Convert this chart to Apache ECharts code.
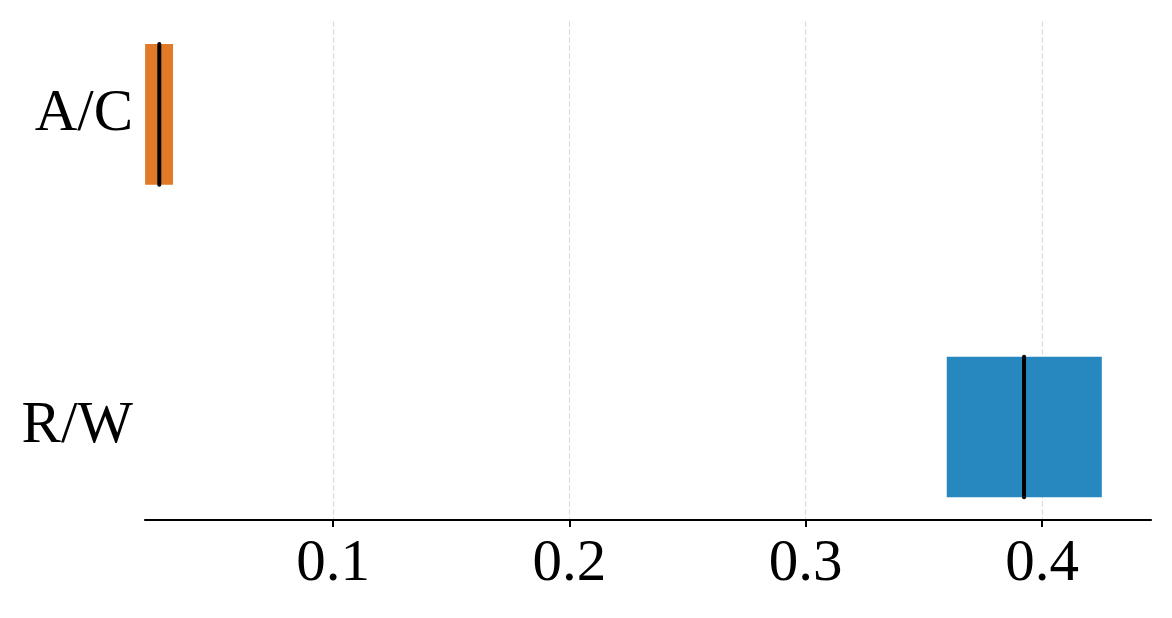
<!DOCTYPE html>
<html>
<head>
<meta charset="utf-8">
<script src="https://cdn.jsdelivr.net/npm/echarts@6/dist/echarts.min.js"></script>
<style>
  html, body { margin: 0; padding: 0; background: #fff; }
  #chart { width: 1172px; height: 618px; }
</style>
</head>
<body>
<div id="chart"></div>
<script>
// data
var categories = ['R/W', 'A/C'];          // y position 0, 1
var lows = [0.3597, 0.0205];
var highs = [0.4253, 0.0323];
var medians = [0.3924, 0.0265];
var barColors = ['#2788bf', '#e07a28'];
var xTicks = [0.1, 0.2, 0.3, 0.4];

document.addEventListener('DOMContentLoaded', function () {
    var chartDom = document.getElementById('chart');
    var myChart = echarts.init(chartDom);

    var BAR_H = 0.45;
    var font = '"Liberation Serif", "Times New Roman", serif';

    var data = categories.map(function (c, i) {
        return [i, lows[i], highs[i], medians[i]];
    });

    function renderItem(params, api) {
        var y = api.value(0);
        var p0 = api.coord([api.value(1), y]);
        var p1 = api.coord([api.value(2), y]);
        var pm = api.coord([api.value(3), y]);
        var h = api.size([0, BAR_H])[1];
        return {
            type: 'group',
            children: [
                {
                    type: 'rect',
                    shape: { x: p0[0], y: p0[1] - h / 2, width: p1[0] - p0[0], height: h },
                    style: { fill: barColors[params.dataIndex] }
                },
                {
                    type: 'line',
                    shape: { x1: pm[0], y1: p0[1] - h / 2, x2: pm[0], y2: p0[1] + h / 2 },
                    style: { stroke: '#000', lineWidth: 4, lineCap: 'round' }
                }
            ]
        };
    }

    var option = {
        animation: false,
        grid: { left: 145, right: 21, top: 21.3, bottom: 98 },
        xAxis: {
            type: 'value',
            min: 0.02045,
            max: 0.44612,
            axisLine: { show: true, onZero: false, lineStyle: { color: '#000', width: 2.2 } },
            axisTick: { show: true, customValues: xTicks, length: 7, lineStyle: { color: '#000', width: 2 } },
            axisLabel: {
                customValues: xTicks,
                margin: 15,
                color: '#000',
                fontFamily: font,
                fontSize: 59,
                formatter: function (v) { return v.toFixed(1); }
            },
            splitLine: { show: true, lineStyle: { color: '#dcdcdc', width: 1.2, type: [5.5, 2.5] } }
        },
        yAxis: {
            type: 'value',
            min: -0.2975,
            max: 1.2975,
            axisLine: { show: false },
            axisTick: { show: false },
            splitLine: { show: false },
            axisLabel: {
                customValues: [0, 1],
                margin: 12,
                padding: [8, 0, 0, 0],
                color: '#000',
                fontFamily: font,
                fontSize: 59,
                formatter: function (v) { return categories[Math.round(v)]; }
            }
        },
        series: [
            {
                type: 'custom',
                renderItem: renderItem,
                encode: { x: [1, 2, 3], y: 0 },
                data: data
            }
        ]
    };
    myChart.setOption(option);
    window.addEventListener('resize', function () {
        myChart.resize();
    });
});
</script>
</body>
</html>
